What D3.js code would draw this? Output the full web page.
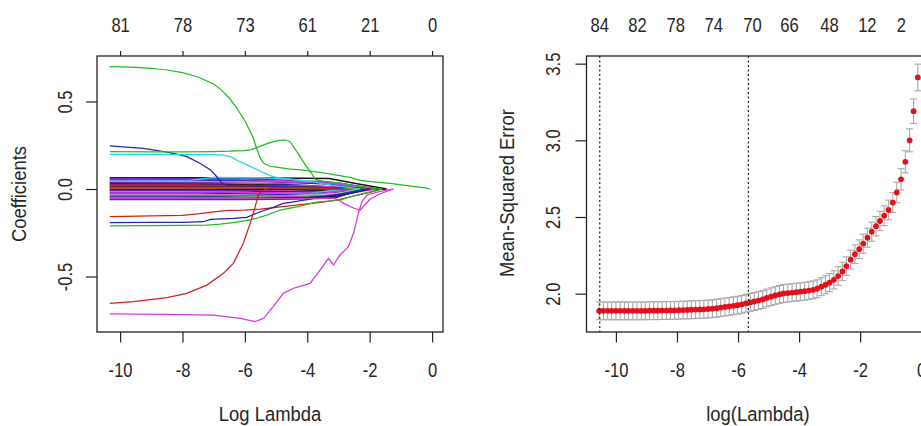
<!DOCTYPE html>
<html>
<head>
<meta charset="utf-8">
<script src="https://cdn.jsdelivr.net/npm/d3@7"></script>
<style>
body { margin: 0; background: #fff; }
text { font-family: "Liberation Sans", Arial, sans-serif; fill: #262626; }
</style>
</head>
<body>
<script>
// ---- left panel: lasso coefficient paths ----
var dfTicks = [-10, -8, -6, -4, -2, 0];
var dfLabels = ["81", "78", "73", "61", "21", "0"];
var coefTicks = [-0.5, 0, 0.5];

// [log lambda, coefficient]
var greenTop = [[-10.33,0.70],[-9.5,0.695],[-9,0.69],[-8.5,0.68],[-8,0.665],[-7.5,0.64],[-7,0.60],[-6.75,0.565],[-6.5,0.52],[-6.25,0.46],[-6,0.39],[-5.75,0.30],[-5.6,0.22],[-5.5,0.175],[-5.4,0.147],[-5.2,0.13],[-5,0.125],[-4.6,0.115],[-4.2,0.11],[-3.6,0.095],[-3.05,0.08],[-2.6,0.065],[-2.3,0.05],[-1.8,0.04],[-1.35,0.032],[-0.8,0.02],[-0.17,0.005],[-0.06,0]];
var greenBump = [[-10.33,0.213],[-9,0.212],[-8,0.212],[-7,0.214],[-6.5,0.216],[-6,0.22],[-5.8,0.225],[-5.5,0.245],[-5.2,0.265],[-4.9,0.278],[-4.7,0.28],[-4.55,0.27],[-4.4,0.23],[-4.23,0.185],[-4.05,0.135],[-3.86,0.09],[-3.75,0.055],[-3.5,0.045],[-3,0.035],[-2.5,0.02],[-2,0.008],[-1.6,0]];
var cyanTop = [[-10.33,0.198],[-8,0.197],[-7,0.196],[-6.7,0.194],[-6.47,0.185],[-6.2,0.16],[-5.9,0.135],[-5.6,0.11],[-5.3,0.085],[-5.09,0.07],[-4.8,0.062],[-4.3,0.05],[-3.8,0.04],[-3.3,0.025],[-2.8,0.012],[-2.3,0]];
var blueTop = [[-10.33,0.246],[-9.8,0.24],[-9.25,0.232],[-8.8,0.22],[-8.29,0.204],[-7.86,0.185],[-7.44,0.147],[-7.1,0.109],[-6.9,0.07],[-6.74,0.033],[-6.5,0.02],[-5.5,0.018],[-4.5,0.012],[-3.5,0.006],[-2.8,0]];
var redLow = [[-10.33,-0.653],[-9.57,-0.644],[-8.5,-0.621],[-7.86,-0.596],[-7.22,-0.549],[-6.69,-0.482],[-6.37,-0.425],[-6.05,-0.31],[-5.83,-0.196],[-5.67,-0.101],[-5.57,-0.035],[-5.45,-0.01],[-5.2,0.005],[-4.5,0.01],[-3.5,0.005],[-3,0]];
var magentaLow = [[-10.33,-0.714],[-8.5,-0.716],[-7.01,-0.72],[-6.15,-0.739],[-5.67,-0.758],[-5.4,-0.739],[-5.09,-0.672],[-4.77,-0.596],[-4.44,-0.567],[-3.91,-0.539],[-3.59,-0.463],[-3.32,-0.396],[-3.16,-0.434],[-2.95,-0.377],[-2.68,-0.33],[-2.52,-0.253],[-2.36,-0.139],[-2.25,-0.073],[-2.09,-0.034],[-1.7,-0.015],[-1.24,0]];
var magentaDip = [[-10.33,-0.055],[-7,-0.055],[-5,-0.055],[-4,-0.053],[-3.1,-0.053],[-2.8,-0.085],[-2.5,-0.11],[-2.3,-0.12],[-2.2,-0.1],[-2.0,-0.06],[-1.7,-0.03],[-1.25,0]];
var redMid = [[-10.33,-0.158],[-9,-0.154],[-8,-0.15],[-7.44,-0.14],[-7,-0.13],[-6.5,-0.122],[-6,-0.12],[-5.5,-0.115],[-5,-0.105],[-4.5,-0.095],[-4,-0.085],[-3.5,-0.075],[-3,-0.06],[-2.5,-0.04],[-2,-0.02],[-1.6,0]];
var blueMid = [[-10.33,-0.192],[-9,-0.191],[-8,-0.19],[-7.33,-0.187],[-7.1,-0.173],[-6.37,-0.168],[-5.94,-0.162],[-5.51,-0.13],[-5.09,-0.105],[-4.77,-0.082],[-4.44,-0.073],[-4,-0.06],[-3.5,-0.045],[-3,-0.03],[-2.5,-0.015],[-2,0]];
var greenMid = [[-10.33,-0.21],[-9,-0.209],[-8,-0.208],[-7.22,-0.206],[-6.8,-0.2],[-6.37,-0.192],[-5.83,-0.177],[-5.3,-0.149],[-4.87,-0.12],[-4.3,-0.1],[-3.7,-0.075],[-2.95,-0.063],[-2.63,-0.045],[-2.2,-0.025],[-1.6,0]];

// the dense bundle of small coefficients
var bundlePaths = [
  [[-10.33,0.064],[-7,0.064],[-5,0.063],[-3.3,0.06],[-2.4,0.03],[-1.45,0]],
  [[-10.33,0.060],[-7.5,0.06],[-6,0.058],[-4.5,0.05],[-3,0.035],[-1.8,0]],
  [[-10.33,0.056],[-7,0.055],[-5.5,0.05],[-4,0.04],[-2.6,0.02],[-1.7,0]],
  [[-10.33,0.052],[-8,0.052],[-6.2,0.048],[-5,0.04],[-3.5,0.03],[-2,0]],
  [[-10.33,0.048],[-7.8,0.048],[-7,0.066],[-5.5,0.064],[-4.5,0.055],[-3,0.03],[-2,0]],
  [[-10.33,0.044],[-6,0.043],[-4,0.04],[-3.2,0.035],[-2.2,0.01],[-1.9,0]],
  [[-10.33,0.040],[-8.5,0.04],[-6,0.038],[-4.5,0.025],[-3,0.01],[-2.5,0]],
  [[-10.33,0.036],[-7,0.035],[-5.5,0.03],[-4,0.02],[-2.8,0]],
  [[-10.33,0.032],[-6.5,0.032],[-5,0.03],[-3.6,0.045],[-3,0.03],[-2.2,0]],
  [[-10.33,0.028],[-7,0.027],[-5,0.022],[-3.5,0.015],[-2.5,0]],
  [[-10.33,0.024],[-8,0.024],[-6,0.02],[-4,0.012],[-2.2,0]],
  [[-10.33,0.020],[-6.5,0.02],[-5,0.015],[-3,0.008],[-2,0]],
  [[-10.33,0.016],[-7,0.016],[-5.5,0.015],[-4,0.018],[-3,0.01],[-1.8,0]],
  [[-10.33,0.012],[-6,0.012],[-4,0.01],[-2.5,0.004],[-1.6,0]],
  [[-10.33,0.008],[-7,0.008],[-5,0.01],[-3,0.006],[-1.5,0]],
  [[-10.33,0.004],[-6,0.004],[-4,0.003],[-2,0]],
  [[-10.33,0.000],[-5,0],[-3,-0.004],[-1.45,0]],
  [[-10.33,-0.004],[-6.5,-0.004],[-4.5,-0.005],[-3,-0.01],[-1.5,0]],
  [[-10.33,-0.008],[-7,-0.008],[-5,-0.01],[-3.5,-0.015],[-2,0]],
  [[-10.33,-0.012],[-6,-0.012],[-4.5,-0.015],[-3.2,-0.02],[-2.2,0]],
  [[-10.33,-0.016],[-8,-0.016],[-6,-0.02],[-4,-0.025],[-2.8,0]],
  [[-10.33,-0.020],[-6.8,-0.02],[-5,-0.022],[-3.5,-0.025],[-2.4,0]],
  [[-10.33,-0.025],[-7,-0.025],[-5.5,-0.03],[-4,-0.035],[-3,-0.03],[-2,0]],
  [[-10.33,-0.030],[-7.5,-0.03],[-6,-0.035],[-4.5,-0.04],[-3,-0.025],[-2.3,0]],
  [[-10.33,-0.035],[-7,-0.035],[-5,-0.04],[-3.5,-0.045],[-2.6,-0.02],[-2,0]],
  [[-10.33,-0.040],[-8.3,-0.04],[-6,-0.045],[-4.5,-0.05],[-3.2,-0.04],[-2.2,0]],
  [[-10.33,-0.045],[-7,-0.045],[-5.5,-0.05],[-4,-0.05],[-3,-0.035],[-2,0]],
  [[-10.33,-0.050],[-6,-0.05],[-4.5,-0.055],[-3.3,-0.05],[-2.5,-0.02],[-1.8,0]],
  [[-10.33,-0.055],[-8.5,-0.055],[-6,-0.058],[-4,-0.05],[-3,-0.04],[-2,0]],
  [[-10.33,-0.060],[-8,-0.06],[-6,-0.06],[-4,-0.055],[-3.1,-0.05],[-2.2,0]]
];
var bundleCols = ["black","blue","magenta","blue","cyan","magenta","gray","blue","magenta","black",
                  "red","blue","magenta","black","red","green","red","black","magenta","blue",
                  "cyan","magenta","blue","gray","magenta","green","blue","magenta","black","blue"];

// ---- right panel: cross-validation curve ----
var logLambda = [-10.55,-10.41,-10.27,-10.14,-10.00,-9.86,-9.72,-9.59,-9.45,-9.31,
                 -9.17,-9.04,-8.90,-8.76,-8.63,-8.49,-8.35,-8.21,-8.08,-7.94,
                 -7.80,-7.66,-7.53,-7.39,-7.25,-7.12,-6.98,-6.84,-6.70,-6.57,
                 -6.43,-6.29,-6.15,-6.02,-5.88,-5.74,-5.60,-5.47,-5.33,-5.19,
                 -5.06,-4.92,-4.78,-4.64,-4.51,-4.37,-4.23,-4.09,-3.96,-3.82,
                 -3.68,-3.54,-3.41,-3.27,-3.13,-3.00,-2.86,-2.72,-2.58,-2.45,
                 -2.31,-2.17,-2.03,-1.90,-1.76,-1.62,-1.48,-1.35,-1.21,-1.07,
                 -0.93,-0.80,-0.66,-0.52,-0.38,-0.25,-0.11];
var cvm = [1.888,1.888,1.888,1.888,1.888,1.888,1.888,1.888,1.888,1.888,
           1.888,1.888,1.889,1.889,1.889,1.890,1.890,1.891,1.891,1.892,
           1.893,1.894,1.895,1.896,1.897,1.898,1.900,1.902,1.905,1.909,
           1.913,1.917,1.921,1.925,1.930,1.937,1.943,1.949,1.955,1.962,
           1.972,1.980,1.988,1.995,2.001,2.004,2.007,2.010,2.013,2.016,
           2.020,2.025,2.032,2.045,2.058,2.072,2.090,2.115,2.145,2.180,
           2.222,2.257,2.290,2.326,2.365,2.404,2.440,2.474,2.508,2.546,
           2.594,2.660,2.746,2.860,3.000,3.190,3.410];
var cvsd = [0.058,0.058,0.058,0.058,0.058,0.058,0.058,0.058,0.058,0.058,
            0.058,0.058,0.058,0.058,0.058,0.058,0.058,0.058,0.058,0.058,
            0.058,0.058,0.058,0.058,0.058,0.058,0.058,0.058,0.058,0.058,
            0.058,0.058,0.058,0.058,0.058,0.058,0.058,0.058,0.058,0.058,
            0.058,0.058,0.058,0.058,0.058,0.058,0.058,0.058,0.058,0.058,
            0.058,0.058,0.058,0.058,0.059,0.059,0.059,0.060,0.060,0.060,
            0.061,0.061,0.061,0.062,0.062,0.062,0.063,0.063,0.064,0.064,
            0.065,0.067,0.069,0.072,0.075,0.080,0.087];
var lambdaMin = -10.53, lambda1se = -5.66;
var nzPos = [-10.55,-9.31,-8.06,-6.81,-5.54,-4.33,-3.02,-1.78,-0.67];
var nzLabels = ["84","82","78","74","70","66","48","12","2"];
var xTicks = [-10, -8, -6, -4, -2, 0];
var mseTicks = [2.0, 2.5, 3.0, 3.5];

var palette = {black:"#141414", red:"#d41e1e", green:"#1fbd1f", blue:"#2424b4",
               cyan:"#26d6de", magenta:"#d936d9", gray:"#b4b4b4"};
var sxTick = 0.85, sxTitle = 0.945;

var svg = d3.select("body").append("svg").attr("width", 921).attr("height", 426)

function tidy(g) {
    g.attr("font-size", null).attr("font-family", null)
    g.select(".domain").remove()
    g.selectAll("line").attr("stroke", "#222").attr("stroke-width", 1.2)
    g.selectAll("text").attr("font-size", "19.5px").attr("fill", null)
}

// ================= left panel =================
var xL = d3.scaleLinear().domain([-10.74, 0.35]).range([97, 443])
var yL = d3.scaleLinear().domain([-0.817, 0.76]).range([332, 56])

var left = svg.append("g")
var lineL = d3.line().x(d => xL(d[0])).y(d => yL(d[1]))

left.selectAll(".bundle").data(bundlePaths).enter().append("path")
    .attr("class", "bundle")
    .attr("d", d => lineL(d))
    .attr("fill", "none")
    .attr("stroke", (d, i) => palette[bundleCols[i]])
    .attr("stroke-width", 1.5)

var majors = [[redMid, "red"], [blueMid, "blue"], [greenMid, "green"], [magentaDip, "magenta"],
              [blueTop, "blue"], [cyanTop, "cyan"], [greenBump, "green"], [redLow, "red"],
              [magentaLow, "magenta"], [greenTop, "green"]]
left.selectAll(".major").data(majors).enter().append("path")
    .attr("class", "major")
    .attr("d", d => lineL(d[0]))
    .attr("fill", "none")
    .attr("stroke", d => palette[d[1]])
    .attr("stroke-width", 1.25)

left.append("rect").attr("x", 97).attr("y", 56).attr("width", 346).attr("height", 276)
    .attr("fill", "none").attr("stroke", "#222").attr("stroke-width", 1.3)

var gxL = left.append("g").attr("transform", "translate(0,332)")
    .call(d3.axisBottom(xL).tickValues(dfTicks).tickSize(10.5).tickFormat(d => String(d)))
tidy(gxL)
gxL.selectAll("text").attr("y", 45).attr("dy", 0).attr("transform", "scale(" + sxTick + ",1)")

var gtL = left.append("g").attr("transform", "translate(0,56)")
    .call(d3.axisTop(xL).tickValues(dfTicks).tickSize(5).tickFormat((d, i) => dfLabels[i]))
tidy(gtL)
gtL.selectAll("text").attr("y", -24.3).attr("dy", 0).attr("transform", "scale(" + sxTick + ",1)")

var gyL = left.append("g").attr("transform", "translate(97,0)")
    .call(d3.axisLeft(yL).tickValues(coefTicks).tickSize(11).tickFormat(d => d.toFixed(1)))
tidy(gyL)
gyL.selectAll("text").attr("x", null).attr("dy", null).attr("text-anchor", "middle")
    .attr("transform", "translate(-25,0) rotate(-90) scale(" + sxTick + ",1)")

left.append("text").attr("text-anchor", "middle").attr("font-size", "19.5px")
    .attr("transform", "translate(270,421) scale(" + sxTitle + ",1)").text("Log Lambda")
left.append("text").attr("text-anchor", "middle").attr("font-size", "19.5px")
    .attr("transform", "translate(26,194) rotate(-90) scale(" + sxTitle + ",1)").text("Coefficients")

// ================= right panel =================
var xR = d3.scaleLinear().domain([-10.964, 0.305]).range([586.5, 930.5])
var yR = d3.scaleLinear().domain([1.75, 3.55]).range([332, 56])
var right = svg.append("g")
var capW = 0.115

var cv = logLambda.map((l, i) => ({l: l, m: cvm[i], s: cvsd[i]}))

var bars = right.selectAll(".eb").data(cv).enter().append("g").attr("class", "eb")
    .attr("stroke", "#a9a9a9").attr("stroke-width", 1.1)
bars.append("line").attr("x1", d => xR(d.l)).attr("x2", d => xR(d.l))
    .attr("y1", d => yR(d.m - d.s)).attr("y2", d => yR(d.m + d.s))
bars.append("line").attr("x1", d => xR(d.l - capW)).attr("x2", d => xR(d.l + capW))
    .attr("y1", d => yR(d.m + d.s)).attr("y2", d => yR(d.m + d.s))
bars.append("line").attr("x1", d => xR(d.l - capW)).attr("x2", d => xR(d.l + capW))
    .attr("y1", d => yR(d.m - d.s)).attr("y2", d => yR(d.m - d.s))

right.selectAll(".pt").data(cv).enter().append("circle").attr("class", "pt")
    .attr("cx", d => xR(d.l)).attr("cy", d => yR(d.m)).attr("r", 2.9)
    .attr("fill", "#e3101c")

right.selectAll(".vl").data([lambdaMin, lambda1se]).enter().append("line").attr("class", "vl")
    .attr("x1", d => xR(d)).attr("x2", d => xR(d)).attr("y1", 56).attr("y2", 332)
    .attr("stroke", "#222").attr("stroke-width", 1.2).attr("stroke-dasharray", "2,2.5")

right.append("rect").attr("x", 586.5).attr("y", 56).attr("width", 344).attr("height", 276)
    .attr("fill", "none").attr("stroke", "#222").attr("stroke-width", 1.3)

var gxR = right.append("g").attr("transform", "translate(0,332)")
    .call(d3.axisBottom(xR).tickValues(xTicks).tickSize(10.5).tickFormat(d => String(d)))
tidy(gxR)
gxR.selectAll("text").attr("y", 45).attr("dy", 0).attr("transform", "scale(" + sxTick + ",1)")

var gtR = right.append("g").attr("transform", "translate(0,56)")
    .call(d3.axisTop(xR).tickValues(nzPos).tickSize(0).tickFormat((d, i) => nzLabels[i]))
tidy(gtR)
gtR.selectAll("line").remove()
gtR.selectAll("text").attr("y", -24.3).attr("dy", 0).attr("transform", "scale(" + sxTick + ",1)")

var gyR = right.append("g").attr("transform", "translate(586.5,0)")
    .call(d3.axisLeft(yR).tickValues(mseTicks).tickSize(11).tickFormat(d => d.toFixed(1)))
tidy(gyR)
gyR.selectAll("text").attr("x", null).attr("dy", null).attr("text-anchor", "middle")
    .attr("transform", "translate(-26.5,0) rotate(-90) scale(" + sxTick + ",1)")

right.append("text").attr("text-anchor", "middle").attr("font-size", "19.5px")
    .attr("transform", "translate(758,421) scale(" + sxTitle + ",1)").text("log(Lambda)")
right.append("text").attr("text-anchor", "middle").attr("font-size", "19.5px")
    .attr("transform", "translate(514,193) rotate(-90) scale(" + sxTitle + ",1)").text("Mean-Squared Error")
</script>
</body>
</html>
